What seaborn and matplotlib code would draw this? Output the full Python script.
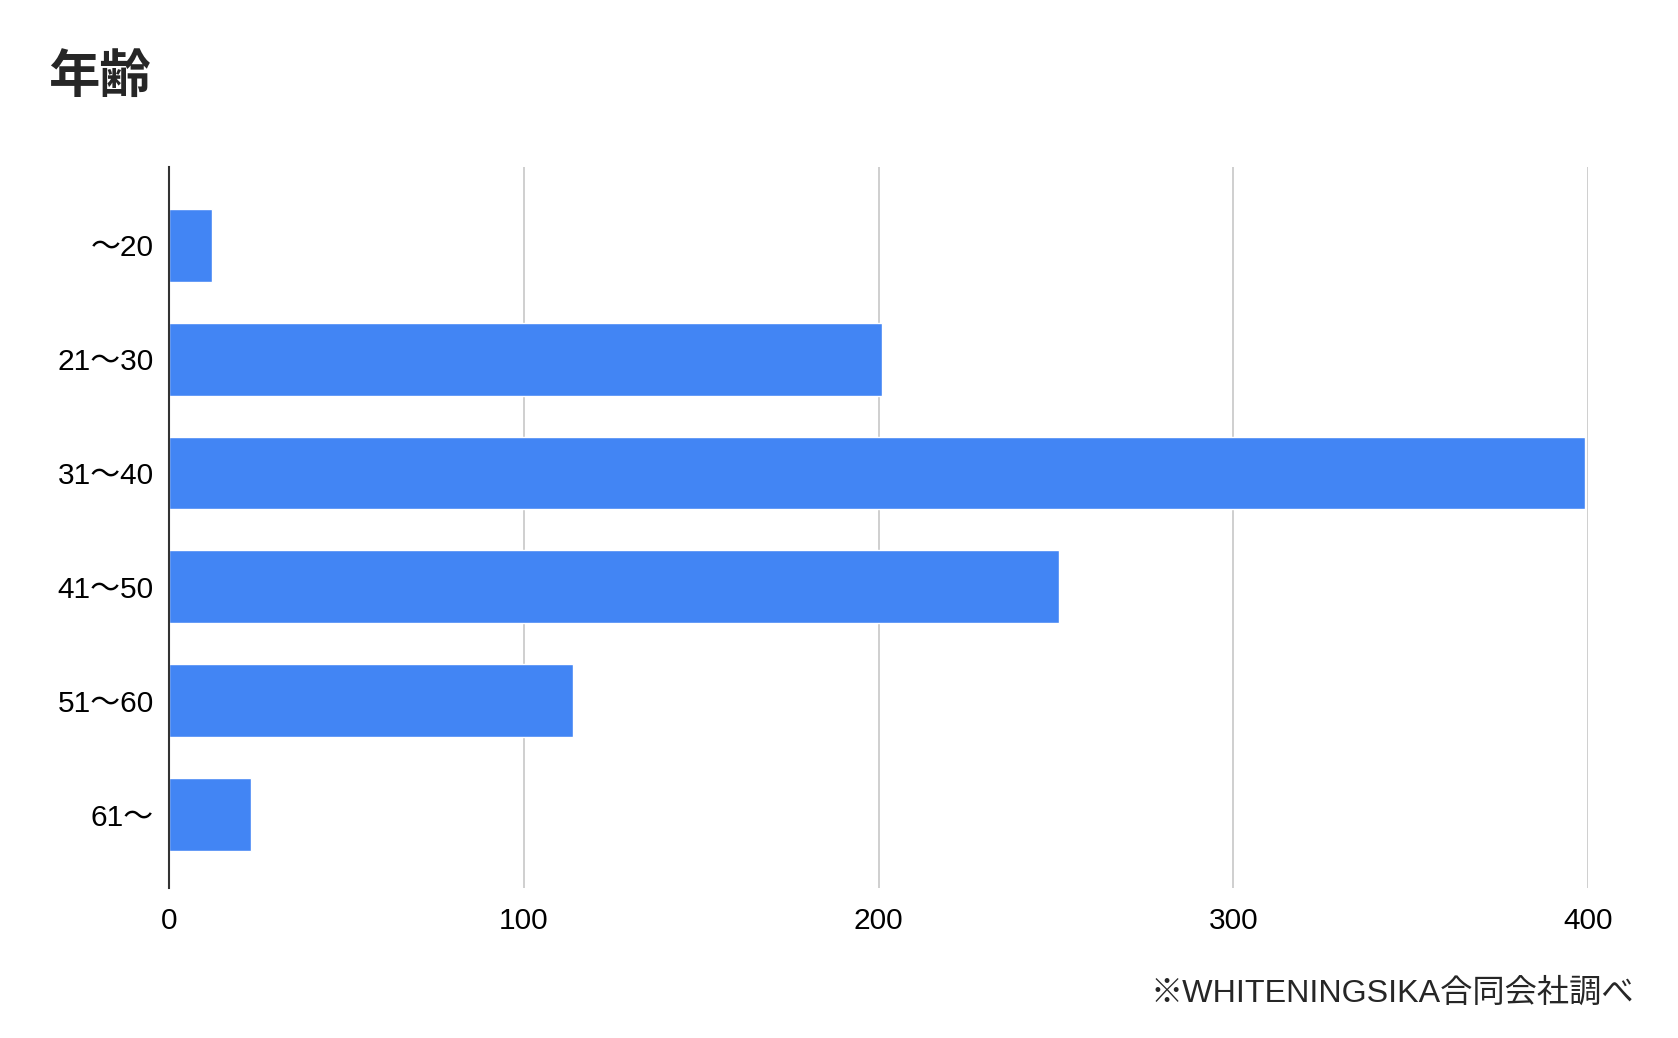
import matplotlib
matplotlib.use("Agg")
import matplotlib.pyplot as plt
import seaborn as sns
import pandas as pd

# age groups and respondent counts
categories = ["～20", "21～30", "31～40", "41～50", "51～60", "61～"]
counts = [12, 201, 399, 251, 114, 23]
x_ticks = [0, 100, 200, 300, 400]

title = "年齢"
source = "※WHITENINGSIKA合同会社調べ"

sns.set_theme(style="white")
plt.rcParams['font.family'] = ['Liberation Sans', 'Noto Sans CJK JP', 'DejaVu Sans']

df = pd.DataFrame({"age": categories, "count": counts})

fig = plt.figure(figsize=(16.78, 10.38), dpi=100)
ax = fig.add_axes([0.1007, 0.1445, 0.8457, 0.6945])

sns.barplot(data=df, x="count", y="age", color="#4285F4", saturation=1,
            width=0.64, ax=ax, zorder=3)

ax.set_xlim(0, 400)
ax.set_ylim(5.643, -0.685)
ax.set_xticks(x_ticks)
ax.set_xticklabels([str(t) for t in x_ticks])
ax.xaxis.grid(True, color="#cccccc", linewidth=1.3, zorder=0)
ax.yaxis.grid(False)
ax.set_xlabel("")
ax.set_ylabel("")

for side in ["top", "right", "bottom"]:
    ax.spines[side].set_visible(False)
ax.spines["left"].set_color("#333333")
ax.spines["left"].set_linewidth(1.5)
ax.spines["left"].set_zorder(4)

ax.tick_params(axis="y", length=0, pad=11, labelsize=21.5, labelcolor="black")
ax.tick_params(axis="x", length=0, pad=14, labelsize=21.5, labelcolor="black")

fig.text(48 / 1678, 1 - 76 / 1038, title, fontsize=37, fontweight="bold",
         family=['Noto Sans CJK JP', 'DejaVu Sans'], ha="left", va="center")
fig.text(1634 / 1678, 1 - 994 / 1038, source, fontsize=23.2,
         ha="right", va="center")

fig.savefig("out.png", dpi=100)
